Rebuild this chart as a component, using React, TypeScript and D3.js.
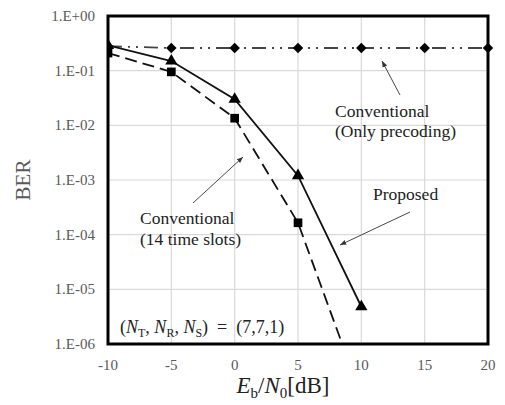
import * as d3 from 'd3';
import React from 'react';

// x values (Eb/N0 in dB)
const snr = [-10, -5, 0, 5, 10, 15, 20];
const snrProposed = [-10, -5, 0, 5, 10];
const snrSlots = [-10, -5, 0, 5, 10];

// BER values
const berPrecoding = [0.28, 0.26, 0.26, 0.26, 0.26, 0.26, 0.26];
const berProposed = [0.29, 0.15, 0.03, 1.2e-3, 4.8e-6];
const berSlots = [0.21, 0.095, 0.0135, 1.65e-4, 1.1e-7];

const xTicks = [-10, -5, 0, 5, 10, 15, 20];
const yTicks = [1, 1e-1, 1e-2, 1e-3, 1e-4, 1e-5, 1e-6];
const yTickLabels = ['1.E+00', '1.E-01', '1.E-02', '1.E-03', '1.E-04', '1.E-05', '1.E-06'];

const W = 505;
const H = 405;
const margin = { top: 16, right: 17, bottom: 61, left: 108 };
const serif = 'Liberation Serif';
const gray = '#595959';

const App = () => {
  const iw = W - margin.left - margin.right;
  const ih = H - margin.top - margin.bottom;

  const x = d3.scaleLinear().domain([-10, 20]).range([0, iw]);
  const y = d3.scaleLog().domain([1e-6, 1]).range([ih, 0]);

  const line = d3.line<[number, number]>()
    .x(d => x(d[0]))
    .y(d => y(d[1]));

  const precodingPts = snr.map((s, i) => [s, berPrecoding[i]] as [number, number]);
  const proposedPts = snrProposed.map((s, i) => [s, berProposed[i]] as [number, number]);
  const slotsPts = snrSlots.map((s, i) => [s, berSlots[i]] as [number, number]);

  const diamond = d3.symbol().type(d3.symbolDiamond2).size(70)() as string;
  const triangle = d3.symbol().type(d3.symbolTriangle).size(65)() as string;
  const square = d3.symbol().type(d3.symbolSquare).size(75)() as string;

  return (
    <svg width={W} height={H} style={{ position: 'absolute', left: 0, top: 0, background: '#fff', fontFamily: serif }}>
      <defs>
        <clipPath id="plotClip">
          <rect x={0} y={-10} width={iw + 10} height={ih + 10} />
        </clipPath>
        <marker id="arrow" viewBox="0 0 10 10" refX="10" refY="5" markerWidth="7" markerHeight="7" orient="auto-start-reverse">
          <path d="M0,1 L10,5 L0,9 z" fill="#333" />
        </marker>
      </defs>
      <g transform={`translate(${margin.left},${margin.top})`}>
        {/* grid */}
        {xTicks.map(t => (
          <line key={'gx' + t} x1={x(t)} x2={x(t)} y1={0} y2={ih} stroke="#d9d9d9" strokeWidth={1.2} />
        ))}
        {yTicks.map(t => (
          <line key={'gy' + t} x1={0} x2={iw} y1={y(t)} y2={y(t)} stroke="#d9d9d9" strokeWidth={1.2} />
        ))}

        {/* tick labels */}
        {xTicks.map(t => (
          <text key={'tx' + t} x={x(t)} y={ih + 26} textAnchor="middle" fontSize={15} fill={gray}>
            {t}
          </text>
        ))}
        {yTicks.map((t, i) => (
          <text key={'ty' + t} x={-13} y={y(t) + 5} textAnchor="end" fontSize={15} fill={gray}>
            {yTickLabels[i]}
          </text>
        ))}

        {/* annotations */}
        <g fontSize={17.5} fill="#222">
          <text x={227} y={101}>Conventional</text>
          <text x={227} y={121}>(Only precoding)</text>
          <text x={265} y={184}>Proposed</text>
          <text x={32} y={208}>Conventional</text>
          <text x={32} y={229}>(14 time slots)</text>
        </g>
        <line x1={292} y1={79} x2={274} y2={45} stroke="#333" strokeWidth={0.9} markerEnd="url(#arrow)" />
        <line x1={302} y1={196} x2={232} y2={229} stroke="#333" strokeWidth={0.9} markerEnd="url(#arrow)" />
        <line x1={85} y1={187} x2={135} y2={141} stroke="#333" strokeWidth={0.9} markerEnd="url(#arrow)" />

        <text x={12} y={317} fontSize={18} fill="#222">
          (<tspan fontStyle="italic">N</tspan><tspan fontSize={12} dy={4}>T</tspan>
          <tspan dy={-4}>, </tspan><tspan fontStyle="italic">N</tspan><tspan fontSize={12} dy={4}>R</tspan>
          <tspan dy={-4}>, </tspan><tspan fontStyle="italic">N</tspan><tspan fontSize={12} dy={4}>S</tspan>
          <tspan dy={-4}>{')\u00a0\u00a0=\u00a0\u00a0(7,7,1)'}</tspan>
        </text>

        {/* series */}
        <g clipPath="url(#plotClip)">
          <path d={line(precodingPts) as string} fill="none" stroke="#444" strokeWidth={1.8} strokeDasharray="14,6,2,6,2,6" />
          <path d={line(slotsPts) as string} fill="none" stroke="#111" strokeWidth={1.8} strokeDasharray="12,6" />
          <path d={line(proposedPts) as string} fill="none" stroke="#111" strokeWidth={1.8} />
          {proposedPts.map(d => (
            <path key={'t' + d[0]} d={triangle} transform={`translate(${x(d[0])},${y(d[1])})`} fill="#000" />
          ))}
          {slotsPts.map(d => (
            y(d[1]) <= ih ? <path key={'s' + d[0]} d={square} transform={`translate(${x(d[0])},${y(d[1])})`} fill="#000" /> : null
          ))}
          {precodingPts.map(d => (
            <path key={'d' + d[0]} d={diamond} transform={`translate(${x(d[0])},${y(d[1])})`} fill="#000" />
          ))}
        </g>

        {/* frame */}
        <rect x={0} y={0} width={iw} height={ih} fill="none" stroke="#000" strokeWidth={3} />
      </g>

      {/* axis titles */}
      <text transform={`translate(30,${margin.top + ih / 2}) rotate(-90)`} textAnchor="middle" fontSize={21} fill={gray}>
        BER
      </text>
      <text x={margin.left + iw / 2 - 15} y={393} textAnchor="middle" fontSize={23} fill="#222">
        <tspan fontStyle="italic">E</tspan><tspan fontSize={15} dy={5}>b</tspan>
        <tspan dy={-5}>/</tspan><tspan fontStyle="italic">N</tspan><tspan fontSize={15} dy={5}>0</tspan>
        <tspan dy={-5}>[dB]</tspan>
      </text>
    </svg>
  );
};

export default App;
